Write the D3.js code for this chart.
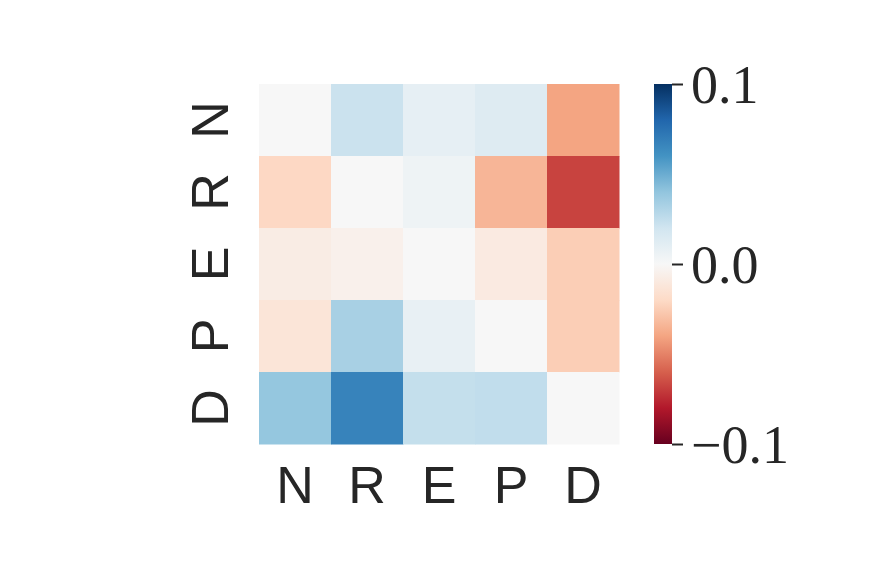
<!DOCTYPE html>
<html lang="en">
<head>
    <meta charset="UTF-8">
    <title>Heatmap</title>
    <script src="https://d3js.org/d3.v7.min.js"></script>
    <style>
        body { margin: 0; background: #fff; }
        .lbl { font-family: "Liberation Sans", Arial, sans-serif; font-size: 52px; fill: #262626; }
        .cbl { font-family: "Liberation Serif", "DejaVu Serif", serif; font-size: 54px; fill: #262626; }
    </style>
</head>
<body>
<div id="chart"></div>
<script>
    // categories (rows top to bottom, columns left to right)
    const categories = ["N", "R", "E", "P", "D"];

    // one array per row
    const rowN = [0.000, 0.022, 0.009, 0.013, -0.040];
    const rowR = [-0.021, 0.000, 0.005, -0.034, -0.068];
    const rowE = [-0.008, -0.005, 0.000, -0.009, -0.025];
    const rowP = [-0.013, 0.033, 0.008, 0.000, -0.025];
    const rowD = [0.039, 0.067, 0.024, 0.025, 0.000];
    const rows = [rowN, rowR, rowE, rowP, rowD];

    const colorTicks = [-0.1, 0.0, 0.1];

    const width = 872, height = 581;
    const grid = { left: 259, top: 84, size: 360 };

    // matplotlib RdBu
    const rdbu = ["#67001f", "#b2182b", "#d6604d", "#f4a582", "#fddbc7", "#f7f7f7",
                  "#d1e5f0", "#92c5de", "#4393c3", "#2166ac", "#053061"];
    const color = d3.scaleLinear()
        .domain(d3.range(11).map(i => -0.1 + i * 0.02))
        .range(rdbu)
        .clamp(true);

    const svg = d3.select("#chart").append("svg")
        .attr("width", width)
        .attr("height", height);

    const x = d3.scaleBand().domain(categories).range([grid.left, grid.left + grid.size]);
    const y = d3.scaleBand().domain(categories).range([grid.top, grid.top + grid.size]);

    const cells = [];
    rows.forEach((r, i) => r.forEach((v, j) => cells.push({ row: categories[i], col: categories[j], v: v })));

    svg.selectAll("rect.cell")
        .data(cells)
        .enter().append("rect")
        .attr("class", "cell")
        .attr("x", d => x(d.col))
        .attr("y", d => y(d.row))
        .attr("width", x.bandwidth() + 0.5)
        .attr("height", y.bandwidth() + 0.5)
        .attr("fill", d => color(d.v));

    // x labels
    svg.selectAll("text.xl")
        .data(categories)
        .enter().append("text")
        .attr("class", "lbl xl")
        .attr("x", d => x(d) + x.bandwidth() / 2)
        .attr("y", 503)
        .attr("text-anchor", "middle")
        .text(d => d);

    // y labels, rotated
    svg.selectAll("text.yl")
        .data(categories)
        .enter().append("text")
        .attr("class", "lbl yl")
        .attr("transform", d => `translate(228,${y(d) + y.bandwidth() / 2}) rotate(-90)`)
        .attr("text-anchor", "middle")
        .text(d => d);

    // colorbar
    const cb = { x: 654, w: 18 };
    const cy = d3.scaleLinear().domain([-0.1, 0.1]).range([grid.top + grid.size, grid.top]);

    const grad = svg.append("defs").append("linearGradient")
        .attr("id", "cbgrad")
        .attr("x1", 0).attr("y1", 1).attr("x2", 0).attr("y2", 0);
    grad.selectAll("stop")
        .data(color.domain())
        .enter().append("stop")
        .attr("offset", (d, i) => i / 10)
        .attr("stop-color", d => color(d));

    svg.append("rect")
        .attr("x", cb.x)
        .attr("y", cy(0.1))
        .attr("width", cb.w)
        .attr("height", cy(-0.1) - cy(0.1))
        .attr("fill", "url(#cbgrad)");

    const cbAxis = svg.append("g")
        .attr("transform", `translate(${cb.x + cb.w},0)`)
        .call(d3.axisRight(cy).tickValues(colorTicks).tickSize(11).tickPadding(8)
            .tickFormat(d => d < 0 ? "\u2212" + Math.abs(d).toFixed(1) : d.toFixed(1)));
    cbAxis.select(".domain").remove();
    cbAxis.selectAll(".tick line").attr("stroke", "#262626").attr("stroke-width", 2);
    cbAxis.selectAll(".tick text")
        .attr("class", "cbl")
        .attr("dy", "0.35em")
        .attr("font-family", null)
        .attr("font-size", null)
        .attr("fill", "#262626");
</script>
</body>
</html>
